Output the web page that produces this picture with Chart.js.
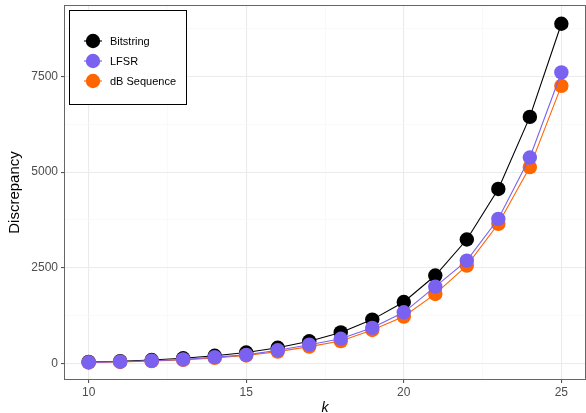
<!DOCTYPE html>
<html>
<head>
<meta charset="utf-8">
<script src="https://cdn.jsdelivr.net/npm/chart.js@4"></script>
<style>
html,body{margin:0;padding:0;background:#fff;}
#wrap{width:586px;height:413px;position:relative;}
</style>
</head>
<body>
<div id="wrap"><canvas id="c" width="586" height="413"></canvas></div>
<script>
// ---- data ----
const kValues   = [10, 11, 12, 13, 14, 15, 16, 17, 18, 19, 20, 21, 22, 23, 24, 25];
const bitstring = [45, 65, 95, 140, 205, 290, 415, 585, 815, 1150, 1610, 2300, 3240, 4560, 6440, 8870];
const lfsr      = [35, 50, 75, 110, 170, 230, 350, 495, 650, 935, 1340, 2010, 2690, 3780, 5380, 7600];
const dbSeq     = [30, 45, 68, 100, 150, 215, 315, 445, 590, 880, 1230, 1820, 2560, 3650, 5130, 7250];
const seriesNames = ["Bitstring", "LFSR", "dB Sequence"];
const seriesColors = ["#000000", "#7B61F0", "#FF6500"];
const yMajorTicks = [0, 2500, 5000, 7500];
const yMinorTicks = [1250, 3750, 6250, 8750];
const xMajorTicks = [10, 15, 20, 25];
const xMinorTicks = [12.5, 17.5, 22.5];

const seriesValues = [bitstring, lfsr, dbSeq];
const drawOrder = [3, 1, 2];

const datasets = seriesNames.map((name, i) => ({
  label: name,
  data: kValues.map((k, j) => ({x: k, y: seriesValues[i][j]})),
  borderColor: seriesColors[i],
  backgroundColor: seriesColors[i],
  pointBackgroundColor: seriesColors[i],
  pointBorderColor: seriesColors[i],
  pointBorderWidth: 0,
  pointRadius: 7.2,
  pointHoverRadius: 7.2,
  borderWidth: 1.1,
  tension: 0,
  order: drawOrder[i]
}));

const allY = yMajorTicks.concat(yMinorTicks).sort((a,b)=>a-b);
const allX = xMajorTicks.concat(xMinorTicks).sort((a,b)=>a-b);

const panelPlugin = {
  id: 'panel',
  afterDraw(chart) {
    const ctx = chart.ctx, a = chart.chartArea;
    ctx.save();
    ctx.strokeStyle = '#666666';
    ctx.lineWidth = 1;
    ctx.strokeRect(Math.round(a.left) - 0.5, Math.round(a.top) - 0.5,
                   Math.round(a.right - a.left) + 1, Math.round(a.bottom - a.top) + 1);
    // legend
    const lx = 69.5, ly = 10.5, lw = 117, lh = 94;
    ctx.fillStyle = '#ffffff';
    ctx.fillRect(lx, ly, lw, lh);
    ctx.strokeStyle = '#000000';
    ctx.lineWidth = 1;
    ctx.strokeRect(lx, ly, lw, lh);
    const ys = [41, 61, 81];
    chart.data.datasets.forEach((ds, i) => {
      const y = ys[i];
      ctx.strokeStyle = ds.borderColor;
      ctx.lineWidth = 1.1;
      ctx.beginPath(); ctx.moveTo(84, y); ctx.lineTo(102, y); ctx.stroke();
      ctx.fillStyle = ds.backgroundColor;
      ctx.beginPath(); ctx.arc(93, y, 7.2, 0, Math.PI * 2); ctx.fill();
      ctx.fillStyle = '#000000';
      ctx.font = '11px "Liberation Sans", Arial, sans-serif';
      ctx.textBaseline = 'middle';
      ctx.textAlign = 'left';
      ctx.fillText(ds.label, 110, y + 0.5);
    });
    ctx.restore();
  }
};

new Chart(document.getElementById('c'), {
  type: 'line',
  data: { datasets },
  options: {
    responsive: false,
    animation: false,
    devicePixelRatio: 1,
    layout: { autoPadding: false, padding: { top: 6, right: 1, left: 0, bottom: 0 } },
    plugins: { legend: { display: false }, tooltip: { enabled: false } },
    scales: {
      x: {
        type: 'linear',
        min: 9.25, max: 25.75,
        afterBuildTicks: s => { s.ticks = allX.map(v => ({value: v})); },
        afterFit: s => { s.height = 34; s.paddingLeft = 0; s.paddingRight = 0; },
        ticks: {
          autoSkip: false, maxRotation: 0,
          color: '#4d4d4d',
          font: { family: '"Liberation Sans", Arial, sans-serif', size: 12 },
          padding: 2,
          callback: v => xMajorTicks.includes(v) ? String(v) : ''
        },
        grid: {
          color: c => xMajorTicks.includes(c.tick && c.tick.value) ? '#ebebeb' : '#f5f5f5',
          tickColor: c => xMajorTicks.includes(c.tick && c.tick.value) ? '#555555' : 'rgba(0,0,0,0)',
          tickLength: 4,
          lineWidth: c => xMajorTicks.includes(c.tick && c.tick.value) ? 1.1 : 0.6
        },
        border: { display: false },
        title: {
          display: true, text: 'k', color: '#000',
          font: { family: '"Liberation Sans", Arial, sans-serif', size: 14, style: 'italic' },
          padding: { top: 7, bottom: -4 }
        }
      },
      y: {
        type: 'linear',
        min: -400, max: 9334,
        afterBuildTicks: s => { s.ticks = allY.map(v => ({value: v})); },
        afterFit: s => { s.width = 65; s.paddingTop = 0; s.paddingBottom = 0; },
        ticks: {
          autoSkip: false,
          color: '#4d4d4d',
          font: { family: '"Liberation Sans", Arial, sans-serif', size: 12 },
          padding: 3,
          callback: v => yMajorTicks.includes(v) ? String(v) : ''
        },
        grid: {
          color: c => yMajorTicks.includes(c.tick && c.tick.value) ? '#ebebeb' : '#f5f5f5',
          tickColor: c => yMajorTicks.includes(c.tick && c.tick.value) ? '#555555' : 'rgba(0,0,0,0)',
          tickLength: 4,
          lineWidth: c => yMajorTicks.includes(c.tick && c.tick.value) ? 1.1 : 0.6
        },
        border: { display: false },
        title: {
          display: true, text: 'Discrepancy', color: '#000',
          font: { family: '"Liberation Sans", Arial, sans-serif', size: 15 },
          padding: { top: 6, bottom: 0 }
        }
      }
    }
  },
  plugins: [panelPlugin]
});
</script>
</body>
</html>
